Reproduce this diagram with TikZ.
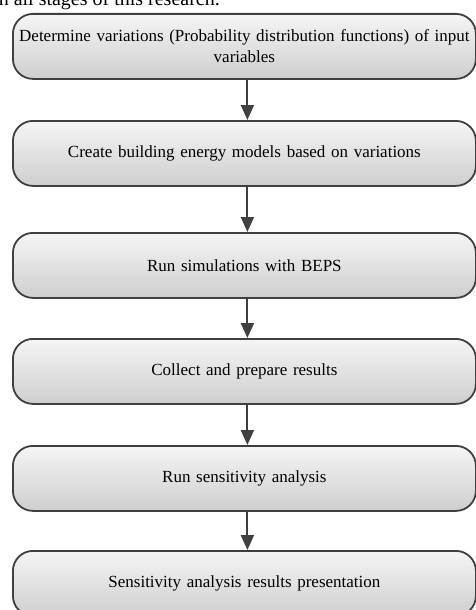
\documentclass[tikz,border=0pt]{standalone}
\usepackage{fontspec}
\setmainfont{Liberation Serif}
\usetikzlibrary{arrows.meta}
\definecolor{edge}{HTML}{404040}
\begin{document}
\begin{tikzpicture}[x=1pt,y=-1pt,
  stepbox/.style={draw=edge, line width=1.8pt, rounded corners=20pt,
    top color=gray!8, bottom color=gray!38,
    minimum width=463pt, minimum height=65pt, inner sep=0pt,
    align=center, text width=460pt, anchor=north west,
    font=\fontsize{17}{21}\selectfont},
  flow/.style={draw=edge, line width=2pt, -{Triangle[length=15pt,width=13pt]}, fill=edge}]
\useasboundingbox (0,0) rectangle (476,610);
\clip (0,0) rectangle (476,610);
\node[anchor=base west, inner sep=0pt, font=\fontsize{20}{22}\selectfont] (hdr) at (-7,5.5) {in all stages of this research.};
\node[stepbox] (b1) at (12,13) {Determine variations (Probability distribution functions) of input\\variables};
\node[stepbox] (b2) at (12,120) {Create building energy models based on variations};
\node[stepbox] (b3) at (12,232) {Run simulations with BEPS};
\node[stepbox] (b4) at (12,338) {Collect and prepare results};
\node[stepbox] (b5) at (12,445) {Run sensitivity analysis};
\node[stepbox] (b6) at (12,550) {Sensitivity analysis results presentation};
\foreach \a/\b in {b1/b2,b2/b3,b3/b4,b4/b5,b5/b6}
  \draw[flow] ([xshift=3pt]\a.south) -- ([xshift=3pt]\b.north);
\end{tikzpicture}
\end{document}
